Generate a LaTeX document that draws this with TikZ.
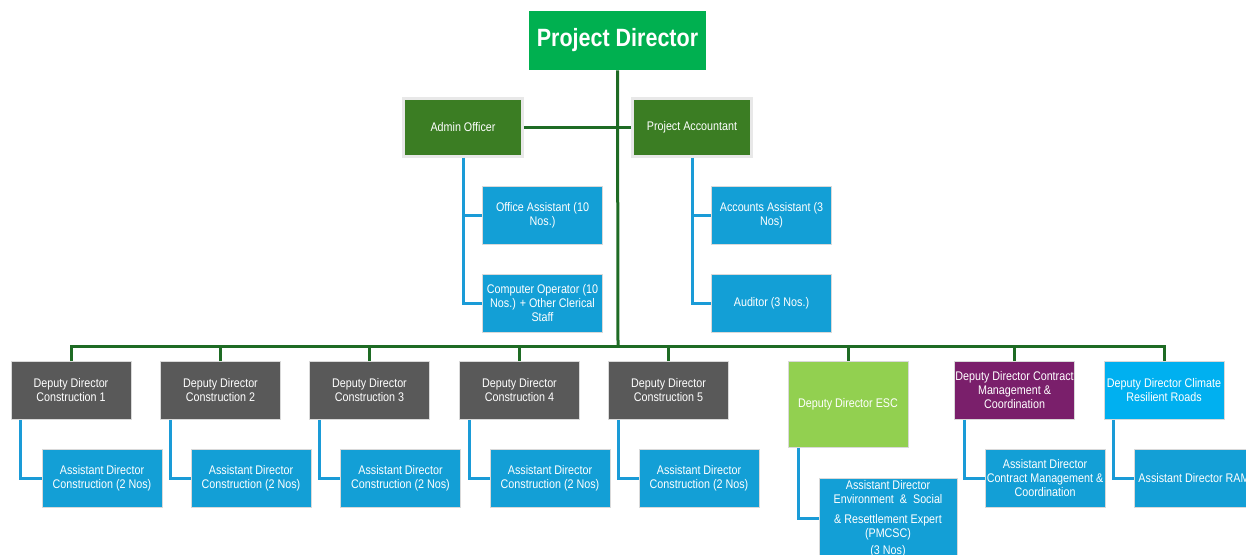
\documentclass[tikz,border=0pt]{standalone}
\usepackage{fontspec}
\setmainfont{Liberation Sans}[FakeStretch=0.86]
\usepackage{xcolor}
\usepackage{tikz}

\definecolor{pdgreen}{HTML}{00B050}
\definecolor{mgrgreen}{HTML}{3B7D23}
\definecolor{ddgray}{HTML}{595959}
\definecolor{asblue}{HTML}{139FD6}
\definecolor{escgreen}{HTML}{92D050}
\definecolor{cmpurple}{HTML}{7A1F6B}
\definecolor{crblue}{HTML}{00B0F0}
\definecolor{linegreen}{HTML}{1E6B24}
\definecolor{lineblue}{HTML}{1A9BD7}

\begin{document}
\begin{tikzpicture}[x=1pt, y=-1pt,
  box/.style={text=white, align=center, inner sep=1pt,
    minimum width=120pt, minimum height=58pt,
    font=\fontsize{12.5}{14}\selectfont, draw=white!85!black, line width=0.8pt},
  pdbox/.style={box, fill=pdgreen, draw=none, minimum width=177pt,
    minimum height=59pt, font=\fontsize{25}{28}\selectfont\bfseries},
  mgr/.style={box, fill=mgrgreen, draw=gray!18, line width=2.5pt,
    minimum width=119pt, minimum height=58pt},
  asst/.style={box, fill=asblue},
  dd/.style={box, fill=ddgray},
  gline/.style={draw=linegreen, line width=3pt},
  bline/.style={draw=lineblue, line width=3pt},
]
\useasboundingbox (0,0) rectangle (1246,554);

% Row 0: director
\node (pd) [pdbox] at (617.5,40.5) {Project Director};
\coordinate (bus) at (618,346);
\draw[gline] (pd.south) -- (bus);

% Row 1: admin and accounts
\node (admin) [mgr] at (463,127.5) {Admin Officer};
\node (acct) [mgr] at (692,127.5) {Project Accountant};
\draw[gline] (admin) -- (acct);

% Row 2: staff under admin and accounts
\node (offasst) [asst] at (542.5,215) {Office Assistant (10\\Nos.)};
\node (compop) [asst] at (542.5,303) {Computer Operator (10\\Nos.) + Other Clerical\\Staff};
\node (accasst) [asst] at (771.5,215) {Accounts Assistant (3\\Nos)};
\node (auditor) [asst] at (771.5,303) {Auditor (3 Nos.)};
\draw[bline] (admin.south) |- (offasst.west);
\draw[bline] (admin.south) |- (compop.west);
\draw[bline] (acct.south) |- (accasst.west);
\draw[bline] (acct.south) |- (auditor.west);

% Row 3: deputy directors
\node (dd1) [dd] at (71,390.5) {Deputy Director\\Construction 1};
\node (dd2) [dd] at (220.5,390.5) {Deputy Director\\Construction 2};
\node (dd3) [dd] at (369.5,390.5) {Deputy Director\\Construction 3};
\node (dd4) [dd] at (519.5,390.5) {Deputy Director\\Construction 4};
\node (dd5) [dd] at (668.5,390.5) {Deputy Director\\Construction 5};
\node (esc) [box, fill=escgreen, minimum height=86pt] at (848,404.5) {Deputy Director ESC};
\node (dcm) [box, fill=cmpurple] at (1014.5,390.5) {Deputy Director Contract\\Management \&\\Coordination};
\node (dcr) [box, fill=crblue] at (1164,390.5) {Deputy Director Climate\\Resilient Roads};
\draw[gline] (dd1.north) |- (bus);
\draw[gline] (dd2.north) |- (bus);
\draw[gline] (dd3.north) |- (bus);
\draw[gline] (dd4.north) |- (bus);
\draw[gline] (dd5.north) |- (bus);
\draw[gline] (esc.north) |- (bus);
\draw[gline] (dcm.north) |- (bus);
\draw[gline] (dcr.north) |- (bus);

% Row 4: assistant directors
\node (ad1) [asst] at (102,478) {Assistant Director\\Construction (2 Nos)};
\node (ad2) [asst] at (251,478) {Assistant Director\\Construction (2 Nos)};
\node (ad3) [asst] at (400.5,478) {Assistant Director\\Construction (2 Nos)};
\node (ad4) [asst] at (550,478) {Assistant Director\\Construction (2 Nos)};
\node (ad5) [asst] at (699,478) {Assistant Director\\Construction (2 Nos)};
\node (adesc) [asst, minimum width=138pt, minimum height=80pt, anchor=north] at (888,478)
  {Assistant Director\\Environment \ \& \ Social\\[6pt]\& Resettlement Expert\\(PMCSC)\\[3pt](3 Nos)};
\node (adcm) [asst] at (1045,478) {Assistant Director\\Contract Management \&\\Coordination};
\node (adram) [asst] at (1194,478) {Assistant Director RAM};
\draw[bline] ([xshift=10pt]dd1.south west) |- (ad1.west);
\draw[bline] ([xshift=10pt]dd2.south west) |- (ad2.west);
\draw[bline] ([xshift=10pt]dd3.south west) |- (ad3.west);
\draw[bline] ([xshift=10pt]dd4.south west) |- (ad4.west);
\draw[bline] ([xshift=10pt]dd5.south west) |- (ad5.west);
\draw[bline] ([xshift=11pt]esc.south west) |- (adesc.west);
\draw[bline] ([xshift=11pt]dcm.south west) |- (adcm.west);
\draw[bline] ([xshift=10pt]dcr.south west) |- (adram.west);

\end{tikzpicture}
\end{document}
